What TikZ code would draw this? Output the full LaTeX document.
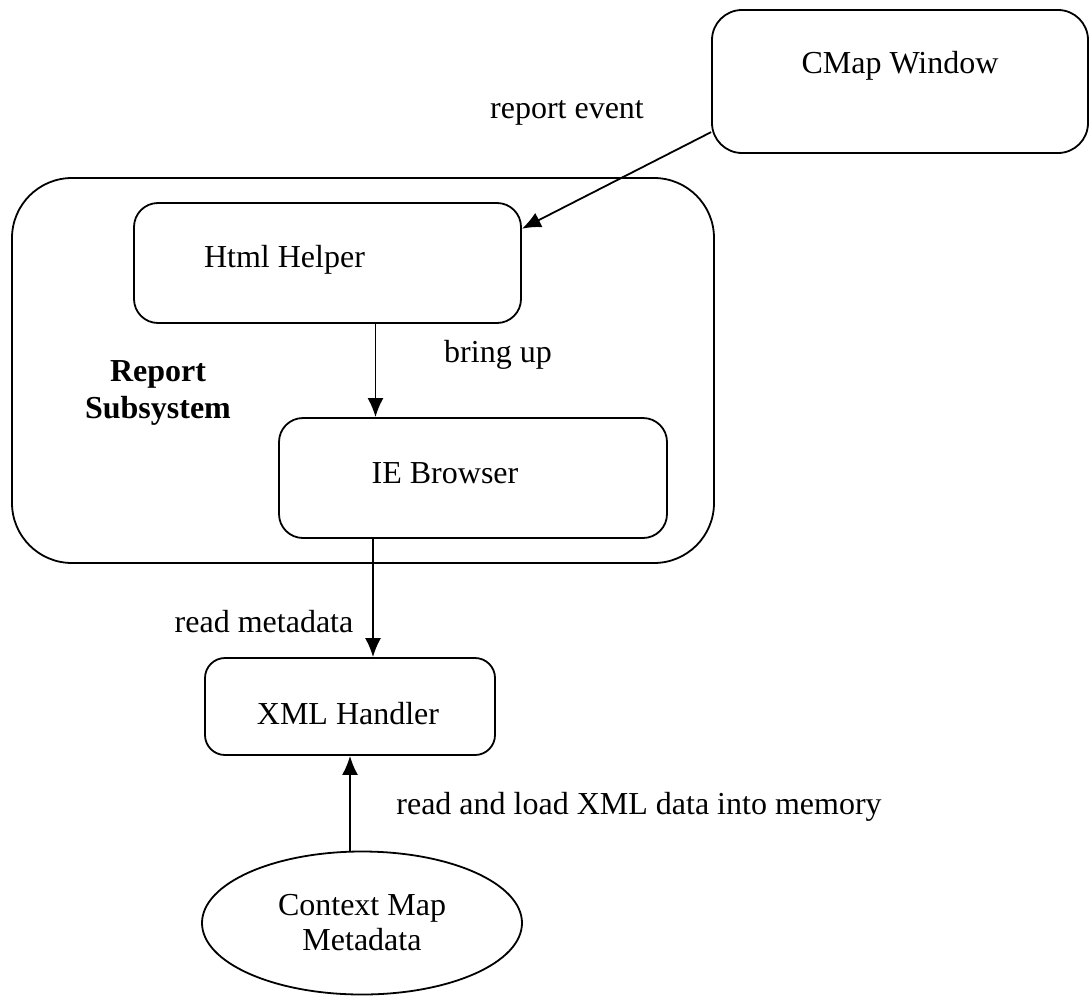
\documentclass[tikz,border=0pt]{standalone}
\usepackage{fontspec}
\setmainfont{Liberation Serif}
\usetikzlibrary{positioning,shapes.geometric,arrows.meta}

\begin{document}
\begin{tikzpicture}[x=1pt,y=-1pt,
    every node/.style={font=\fontsize{32}{36}\selectfont},
    box/.style={draw=black, line width=1.8pt, rounded corners=24pt, inner sep=0pt},
    arr/.style={line width=1.8pt, -{Latex[length=19pt,width=16pt]}},
]
    \useasboundingbox (0,0) rectangle (1091,998);

    % boxes
    \node[box, minimum width=376pt, minimum height=143pt, rounded corners=30pt,
          label={[yshift=16pt]center:CMap Window}] (cmap) at (900,81.5) {};
    \node[box, minimum width=702pt, minimum height=385pt, rounded corners=60pt] (subsys) at (363,370.5) {};
    \node[box, minimum width=387pt, minimum height=120pt,
          label={[xshift=-43pt, yshift=3pt]center:Html Helper}] (html) at (327.5,263) {};
    \node[box, minimum width=388pt, minimum height=120pt,
          label={[xshift=-28pt, yshift=5pt]center:IE Browser}] (ie) at (473,478) {};
    \node[box, minimum width=290pt, minimum height=97pt, rounded corners=20pt,
          label={[xshift=-2pt, yshift=-7pt]center:XML Handler}] (xml) at (350,706.5) {};
    \node[draw=black, line width=1.8pt, ellipse, minimum width=320pt, minimum height=143pt,
          inner sep=0pt, align=center, font=\fontsize{32}{35}\selectfont] (ctx) at (362,923) {Context Map\\Metadata};

    % texts
    \node[align=center, font=\fontsize{32}{37}\selectfont\bfseries] (subsys-lbl) at (158,393) {Report\\Subsystem};
    \node (report-lbl) at (567,113) {report event};
    \node (bring-lbl) at (498,355) {bring up};
    \node (meta-lbl) at (264,622) {read metadata};
    \node (load-lbl) at (639,807) {read and load XML data into memory};

    % connectors
    \draw[arr] (cmap.195) -- (html.10);
    \draw[arr] ([xshift=48pt]html.south) -- ([xshift=48pt]html.south |- ie.north);
    \draw[arr] ([xshift=23pt]xml.north |- ie.south) -- ([xshift=23pt]xml.north);
    \draw[arr] (xml.south |- ctx.north) -- (xml.south);

\end{tikzpicture}
\end{document}
